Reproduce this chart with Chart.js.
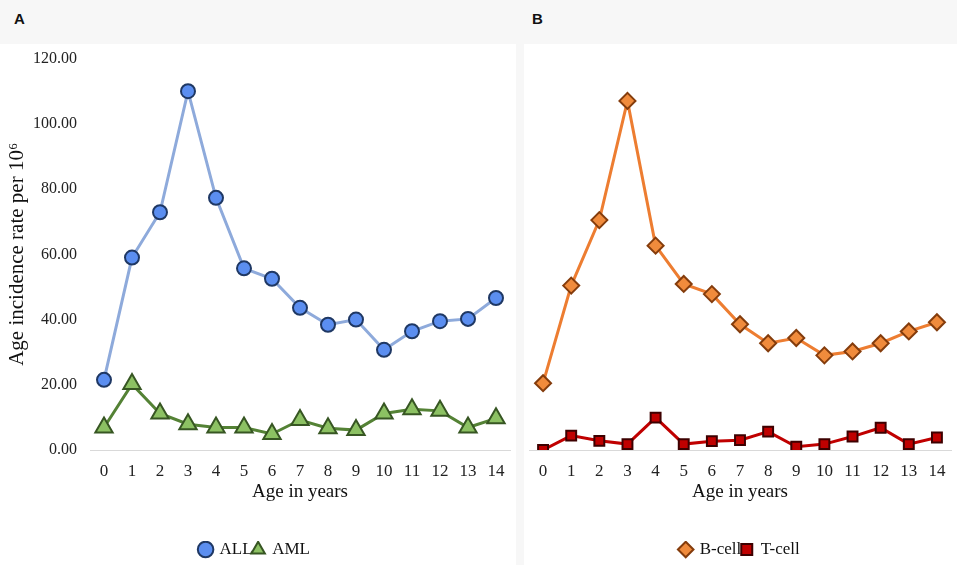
<!DOCTYPE html>
<html>
<head>
<meta charset="utf-8">
<script src="https://cdn.jsdelivr.net/npm/chart.js@4.4.1/dist/chart.umd.min.js"></script>
<style>
    html, body { margin: 0; padding: 0; background: #f7f7f7; }
    #page { position: relative; width: 957px; height: 565px; background: #f7f7f7; overflow: hidden; }
    .tag { position: absolute; top: 10px; font: bold 15px "Liberation Sans", Arial, sans-serif; color: #111; }
    .panel { position: absolute; top: 44px; height: 524px; background: #fff; }
</style>
</head>
<body>
<div id="page">
    <div class="tag" style="left:14px">A</div>
    <div class="tag" style="left:532px">B</div>
    <div class="panel" style="left:0; width:516px;"><canvas id="chartA"></canvas></div>
    <div class="panel" style="left:524px; width:433px;"><canvas id="chartB"></canvas></div>
</div>
<script>
const ages = ["0", "1", "2", "3", "4", "5", "6", "7", "8", "9", "10", "11", "12", "13", "14"];
const allRate = [21.5, 59.0, 72.9, 110.0, 77.3, 55.7, 52.5, 43.6, 38.4, 40.0, 30.7, 36.4, 39.5, 40.2, 46.6];
const amlRate = [6.9, 20.2, 11.2, 7.9, 6.9, 6.9, 4.9, 9.2, 6.7, 6.1, 11.2, 12.5, 12.0, 6.9, 9.7];
const bCellRate = [20.4, 50.2, 70.2, 106.6, 62.4, 50.7, 47.6, 38.4, 32.6, 34.2, 28.9, 30.1, 32.6, 36.2, 39.0];
const tCellRate = [0.0, 4.4, 2.8, 1.8, 9.9, 1.8, 2.7, 3.0, 5.6, 1.0, 1.8, 4.1, 6.8, 1.8, 3.8];
const yTicks = [0, 20, 40, 60, 80, 100, 120];

const serif = "'Liberation Serif', 'Times New Roman', serif";

function series(label, data, line, fill, border, style, radius) {
    return {
        label,
        data,
        borderColor: line,
        borderWidth: 3,
        pointStyle: style,
        pointRadius: radius,
        pointHoverRadius: radius,
        pointBackgroundColor: fill,
        pointBorderColor: border,
        pointBorderWidth: 2,
        tension: 0
    };
}

function options(showY, padding) {
    return {
        responsive: true,
        maintainAspectRatio: false,
        animation: false,
        layout: { padding, autoPadding: false },
        plugins: {
            tooltip: { enabled: false },
            legend: {
                position: "bottom",
                labels: {
                    usePointStyle: true,
                    boxWidth: 11,
                    boxHeight: 11,
                    padding: 0,
                    color: "#111",
                    font: { family: serif, size: 17 }
                }
            }
        },
        scales: {
            x: {
                offset: true,
                grid: { display: false },
                border: { display: true, color: "#d9d9d9", width: 1 },
                ticks: { color: "#222", font: { family: serif, size: 17 }, padding: 3, autoSkip: false, maxRotation: 0 },
                title: { display: true, text: "Age in years", color: "#111", font: { family: serif, size: 19 }, padding: { top: 0, bottom: 38 } },
                afterFit: (scale) => { scale.height = 91; }
            },
            y: {
                display: showY,
                min: 0,
                max: 120,
                afterBuildTicks: (scale) => { scale.ticks = yTicks.map(v => ({ value: v })); },
                grid: { display: false },
                border: { display: false },
                ticks: {
                    color: "#222",
                    padding: 5,
                    font: { family: serif, size: 16 },
                    callback: (v) => v.toFixed(2)
                },
                title: { display: showY, text: "Age incidence rate per 10⁶", color: "#111", font: { family: serif, size: 21 }, padding: { top: 5, bottom: 0 } },
                afterFit: (scale) => { if (showY) scale.width = 90; }
            }
        }
    };
}

new Chart(document.getElementById("chartA"), {
    type: "line",
    data: {
        labels: ages,
        datasets: [
            series("ALL", allRate, "#8eaadb", "#5b8ef0", "#1f3864", "circle", 7),
            series("AML", amlRate, "#548235", "#8cc163", "#375623", "triangle", 10)
        ]
    },
    options: options(true, { top: 6, right: 6, left: 0, bottom: 0 })
});

new Chart(document.getElementById("chartB"), {
    type: "line",
    data: {
        labels: ages,
        datasets: [
            series("B-cell", bCellRate, "#ed7d31", "#f08b3c", "#843c0c", "rectRot", 8),
            series("T-cell", tCellRate, "#c00000", "#c00000", "#3d0000", "rect", 7)
        ]
    },
    options: options(false, { top: 13, right: 6, left: 5, bottom: 0 })
});
</script>
</body>
</html>
